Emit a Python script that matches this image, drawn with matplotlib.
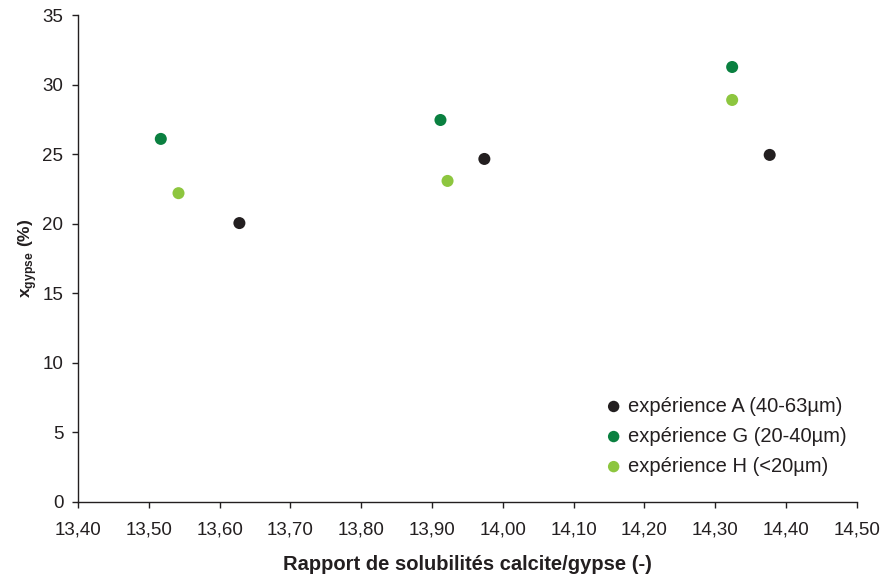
import matplotlib
matplotlib.use("Agg")
import matplotlib.pyplot as plt
from matplotlib.ticker import MultipleLocator, FuncFormatter

plt.rcParams['font.family'] = ['Liberation Sans', 'DejaVu Sans']
plt.rcParams['mathtext.fontset'] = 'custom'
plt.rcParams['mathtext.bf'] = 'Liberation Sans:bold'
plt.rcParams['mathtext.rm'] = 'Liberation Sans'

# données
ratio_A = [13.628, 13.974, 14.377]
xg_A = [20.05, 24.66, 24.95]
ratio_G = [13.517, 13.912, 14.324]
xg_G = [26.1, 27.46, 31.27]
ratio_H = [13.542, 13.922, 14.324]
xg_H = [22.2, 23.08, 28.9]

labels = ["expérience A (40-63µm)", "expérience G (20-40µm)", "expérience H (<20µm)"]
colors = ["#231f20", "#0a8040", "#8dc63f"]
txt = '#231f20'

fig = plt.figure(figsize=(8.85, 5.81), dpi=100)
ax = fig.add_axes([0.0881, 0.136, 0.880, 0.838])

for xs, ys, lab, c in zip([ratio_A, ratio_G, ratio_H], [xg_A, xg_G, xg_H], labels, colors):
    ax.scatter(xs, ys, s=75, color=c, label=lab, edgecolors='none', zorder=3)

ax.set_xlim(13.40, 14.50)
ax.set_ylim(0, 35)
ax.xaxis.set_major_locator(MultipleLocator(0.1))
ax.yaxis.set_major_locator(MultipleLocator(5))
ax.xaxis.set_major_formatter(FuncFormatter(lambda v, p: f"{v:.2f}".replace('.', ',')))
ax.yaxis.set_major_formatter(FuncFormatter(lambda v, p: f"{v:.0f}"))

for s in ['top', 'right']:
    ax.spines[s].set_visible(False)
for s in ['left', 'bottom']:
    ax.spines[s].set_color(txt)
    ax.spines[s].set_linewidth(1.0)
ax.tick_params(axis='both', direction='out', length=4.5, width=1, color=txt,
               labelsize=13.5, labelcolor=txt)
ax.tick_params(axis='x', pad=9.5)
ax.tick_params(axis='y', pad=6)

ax.set_xlabel("Rapport de solubilités calcite/gypse (-)", fontsize=14.5,
              fontweight='bold', color=txt, labelpad=12)
ax.set_ylabel(r"$\mathbf{x}_{\mathbf{gypse}}\ \mathbf{(\%)}$", fontsize=12.5,
              color=txt)
ax.yaxis.set_label_coords(-0.050, 0.5)

leg = ax.legend(loc='lower right', bbox_to_anchor=(0.997, 0.037), frameon=False,
                borderaxespad=0, fontsize=14.5, handlelength=1.0,
                handletextpad=0.2, labelspacing=0.55, markerscale=0.95)
for t in leg.get_texts():
    t.set_color(txt)

fig.savefig("out.png", dpi=100)
